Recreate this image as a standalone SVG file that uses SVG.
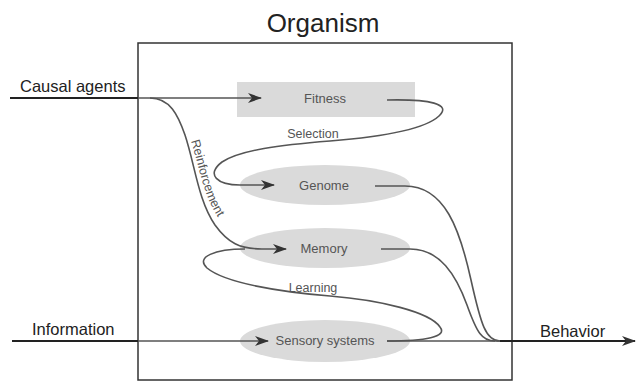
<svg xmlns="http://www.w3.org/2000/svg" width="636" height="381" viewBox="0 0 636 381">
<style>
.node{fill:#dadada;stroke:none}
.nl{font-family:"Liberation Sans",Arial,sans-serif;font-size:13px;fill:#555;text-anchor:middle}
.ol{font-family:"Liberation Sans",Arial,sans-serif;font-size:16.5px;fill:#222}
.c{fill:none;stroke:#555;stroke-width:1.6}
.cd{fill:none;stroke:#222;stroke-width:1.8}
.cl{font-family:"Liberation Sans",Arial,sans-serif;font-size:12.5px;fill:#555}
</style>
<defs>
<marker id="ah" viewBox="0 0 14 10" refX="13" refY="5" markerWidth="14" markerHeight="10" markerUnits="userSpaceOnUse" orient="auto">
<path d="M0,0 L14,5 L0,10 L4,5 z" fill="#333"/>
</marker>
<path id="rp" d="M191,141 C199,166 203,195 219,219"/>
</defs>
<rect width="636" height="381" fill="#fff"/>
<g id="organism">
<rect x="138" y="43" width="374" height="337" fill="none" stroke="#333" stroke-width="1.5"/>
<text x="323" y="32" font-family="Liberation Sans,Arial,sans-serif" font-size="26" fill="#222" text-anchor="middle">Organism</text>
</g>
<g id="fitness"><rect class="node" x="237" y="82" width="178" height="35"/><text class="nl" x="325" y="103">Fitness</text></g>
<g id="genome"><ellipse class="node" cx="325" cy="185" rx="85" ry="20"/><text class="nl" x="324" y="190">Genome</text></g>
<g id="memory"><ellipse class="node" cx="325" cy="248" rx="85" ry="20"/><text class="nl" x="324" y="253">Memory</text></g>
<g id="sensory"><ellipse class="node" cx="325" cy="341" rx="85" ry="21"/><text class="nl" x="325" y="345">Sensory systems</text></g>
<g id="connectors">
<path class="cd" d="M10,98 H138"/>
<path class="c" d="M138,98 H261" marker-end="url(#ah)"/>
<path class="cd" d="M12,341 H138"/>
<path class="c" d="M138,341 H268" marker-end="url(#ah)"/>
<path class="c" d="M150,98 C170,98 178,115 185,135 C195,165 198,200 215,225 C228,243 240,249 262,249 L286,249" marker-end="url(#ah)"/>
<path class="c" d="M387,100 C430,99 452,104 439,116 C425,129 380,137 330,141 C280,145 240,150 222,162 C205,175 218,185 240,185 L274,185" marker-end="url(#ah)"/>
<path class="c" d="M387,341 C425,341 448,337 440,327 C430,312 380,300 330,296 C280,292 225,283 207,268 C195,257 215,249 245,249"/>
<path class="c" d="M375,186 H405 C445,186 460,230 471,280 C481,325 486,341 500,341"/>
<path class="c" d="M381,249 H410 C440,249 456,275 467,305 C477,333 482,341 495,341"/>
<path class="c" d="M387,341 H500"/>
<path class="cd" d="M500,341 H635" marker-end="url(#ah)"/>
<text class="cl" x="313" y="138" text-anchor="middle">Selection</text>
<text class="cl" x="313" y="292" text-anchor="middle" font-size="12">Learning</text>
<text class="cl" font-size="11.5"><textPath href="#rp" startOffset="0">Reinforcement</textPath></text>
</g>
<text class="ol" x="20" y="92">Causal agents</text>
<text class="ol" x="32" y="335">Information</text>
<text class="ol" x="540" y="337">Behavior</text>
</svg>
